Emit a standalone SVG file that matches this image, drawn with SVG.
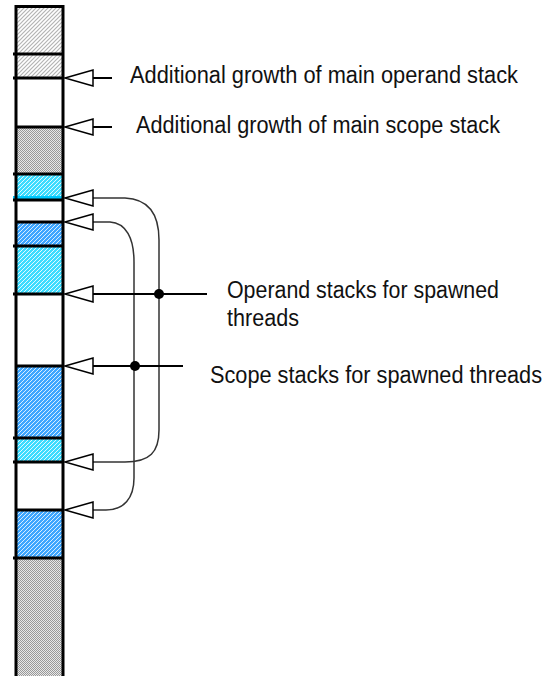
<svg xmlns="http://www.w3.org/2000/svg" width="552" height="676" viewBox="0 0 552 676">
<style>
.div{stroke:#000;stroke-width:3}
.tri{fill:#fff;stroke:#000;stroke-width:1.5}
.lead{stroke:#000;stroke-width:2;fill:none}
.curve{stroke:#333;stroke-width:1.5;fill:none}
text{font-family:"Liberation Sans",Arial,sans-serif;font-size:23px;fill:#111}
</style>
<defs>
<pattern id="hatchGray" width="4" height="4" patternUnits="userSpaceOnUse">
<rect width="4" height="4" fill="#fff"/>
<path d="M-1,1 L1,-1 M0,4 L4,0 M3,5 L5,3" stroke="#b4b4b4" stroke-width="1.2"/>
</pattern>
<pattern id="checker" width="2" height="2" patternUnits="userSpaceOnUse">
<rect width="2" height="2" fill="#e8e8e8"/>
<rect width="1" height="1" fill="#999"/>
<rect x="1" y="1" width="1" height="1" fill="#999"/>
</pattern>
<pattern id="hatchCyan" width="4" height="4" patternUnits="userSpaceOnUse">
<rect width="4" height="4" fill="#3ddcff"/>
<path d="M-1,1 L1,-1 M0,4 L4,0 M3,5 L5,3" stroke="#e2f9ff" stroke-width="1"/>
</pattern>
<pattern id="hatchBlue" width="4" height="4" patternUnits="userSpaceOnUse">
<rect width="4" height="4" fill="#3ea6ff"/>
<path d="M-1,1 L1,-1 M0,4 L4,0 M3,5 L5,3" stroke="#d8edff" stroke-width="1"/>
</pattern>
</defs>
<g id="stack-column">
<rect x="16" y="6" width="47" height="72" fill="url(#hatchGray)"/>
<rect x="16" y="127" width="47" height="47" fill="url(#checker)"/>
<rect x="16" y="174" width="47" height="26" fill="url(#hatchCyan)"/>
<rect x="16" y="222" width="47" height="24" fill="url(#hatchBlue)"/>
<rect x="16" y="246" width="47" height="48" fill="url(#hatchCyan)"/>
<rect x="16" y="366" width="47" height="72" fill="url(#hatchBlue)"/>
<rect x="16" y="438" width="47" height="24" fill="url(#hatchCyan)"/>
<rect x="16" y="510" width="47" height="48" fill="url(#hatchBlue)"/>
<rect x="16" y="558" width="47" height="118" fill="url(#checker)"/>
<line x1="13" y1="197.5" x2="63" y2="197.5" stroke="#00c8ff" stroke-width="3"/>
<path class="div" d="M16,5 V676 M63,5 V676 M14.5,6.5 H64.5 M13,54 H64 M13,78 H64 M16,127 H64 M13,174 H64 M13,200 H64 M16,222 H64 M13,246 H64 M13,294 H64 M16,366 H64 M13,438 H64 M13,462 H64 M16,510 H64 M13,558 H64"/>
</g>
<g id="connectors">
<path class="curve" d="M93,198 L125,198 C148,199 159,214 159,240 L159,430 C159,452 150,462 125,462 L93,462"/>
<path class="curve" d="M93,222 L110,222 C126,223 134,238 134,262 L134,478 C134,498 124,510 106,510 L93,510"/>
<path class="lead" d="M93,78 H112 M93,127 H112 M93,294 H207 M93,366 H183"/>
<circle cx="159" cy="294" r="5" fill="#000"/>
<circle cx="135" cy="366" r="5" fill="#000"/>
<g class="arrows">
<polygon class="tri" points="65,78 93,70 93,86"/>
<polygon class="tri" points="65,127 93,119 93,135"/>
<polygon class="tri" points="65,198 93,190 93,206"/>
<polygon class="tri" points="65,222 93,214 93,230"/>
<polygon class="tri" points="65,294 93,286 93,302"/>
<polygon class="tri" points="65,366 93,358 93,374"/>
<polygon class="tri" points="65,462 93,454 93,470"/>
<polygon class="tri" points="65,510 93,502 93,518"/>
</g>
</g>
<g id="label-operand-growth"><text x="130" y="83" textLength="388" lengthAdjust="spacingAndGlyphs">Additional growth of main operand stack</text></g>
<g id="label-scope-growth"><text x="136" y="133" textLength="364" lengthAdjust="spacingAndGlyphs">Additional growth of main scope stack</text></g>
<g id="label-operand-threads"><text x="227" y="298" textLength="272" lengthAdjust="spacingAndGlyphs">Operand stacks for spawned</text><text x="227" y="326" textLength="72" lengthAdjust="spacingAndGlyphs">threads</text></g>
<g id="label-scope-threads"><text x="210" y="383" textLength="332" lengthAdjust="spacingAndGlyphs">Scope stacks for spawned threads</text></g>
</svg>
